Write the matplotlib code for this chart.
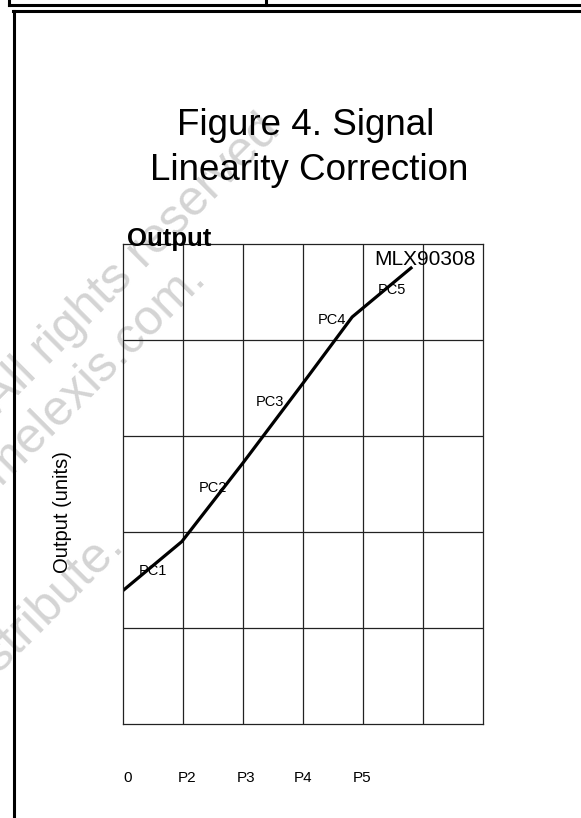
import matplotlib
matplotlib.use("Agg")
import matplotlib.pyplot as plt
from matplotlib.lines import Line2D

plt.rcParams["font.family"] = ["Liberation Sans", "DejaVu Sans"]

# curve (x in columns, y in rows)
curve_x = [0.0, 0.98, 2.0, 3.0, 3.82, 4.8]
curve_y = [1.39, 1.90, 2.72, 3.55, 4.24, 4.75]

seg_labels = ["PC1", "PC2", "PC3", "PC4", "PC5"]
seg_x = [0.5, 1.5, 2.45, 3.49, 4.49]
seg_y = [1.59, 2.46, 3.35, 4.21, 4.52]

tick_pos = [0.08, 1.06, 2.05, 3.0, 3.98]
tick_labels = ["0", "P2", "P3", "P4", "P5"]

W, H = 581, 818
fig = plt.figure(figsize=(W / 100, H / 100), dpi=100)


def fx(px):
    return px / W


def fy(py):
    return 1 - py / H


# page frame (header box + border)
frame = [
    ((9, 581), (5, 5)), ((9, 9), (0, 5)), ((266, 266), (0, 5)),
    ((13, 581), (11, 11)), ((14, 14), (11, 818)),
]
for xs, ys in frame:
    fig.add_artist(Line2D([fx(x) for x in xs], [fy(y) for y in ys],
                          color="k", linewidth=2.2, transform=fig.transFigure))

# watermark
wm = [("Copyright Melexis. All rights reserved", 282, 132),
      ("support@melexis.com.", 208, 280),
      ("Do not distribute.", 126, 548)]
for txt, x, y in wm:
    fig.text(fx(x), fy(y), txt, fontsize=36, color="#d4d4d4", rotation=45,
             rotation_mode="anchor", ha="right", va="baseline", zorder=-5)

ax = fig.add_axes([fx(123), fy(724), fx(483) - fx(123), fy(244) - fy(724)])
ax.patch.set_visible(False)
ax.set_xlim(0, 6)
ax.set_ylim(0, 5)
for v in range(1, 6):
    ax.axvline(v, color="#222222", linewidth=0.9)
for v in range(1, 5):
    ax.axhline(v, color="#222222", linewidth=0.9)
for s in ax.spines.values():
    s.set_linewidth(0.9)
    s.set_color("#222222")

ax.plot(curve_x, curve_y, color="k", linewidth=2.3)
for lab, x, y in zip(seg_labels, seg_x, seg_y):
    ax.text(x, y, lab, fontsize=10.5, ha="center", va="center")
ax.text(5.04, 4.84, "MLX90308", fontsize=15, ha="center", va="center")

ax.set_xticks(tick_pos)
ax.set_xticklabels(tick_labels, fontsize=11)
ax.set_yticks([])
ax.tick_params(axis="x", length=0, pad=34)

fig.text(fx(62), fy(512), "Output (units)", fontsize=14.5, rotation=90,
         ha="center", va="center")
fig.text(fx(127), fy(246), "Output", fontsize=18.5, fontweight="bold",
         ha="left", va="baseline")
fig.text(fx(306), fy(135), "Figure 4. Signal", fontsize=26.5, ha="center", va="baseline")
fig.text(fx(309), fy(180), "Linearity Correction", fontsize=26.5, ha="center", va="baseline")

fig.savefig("out.png", dpi=100)
